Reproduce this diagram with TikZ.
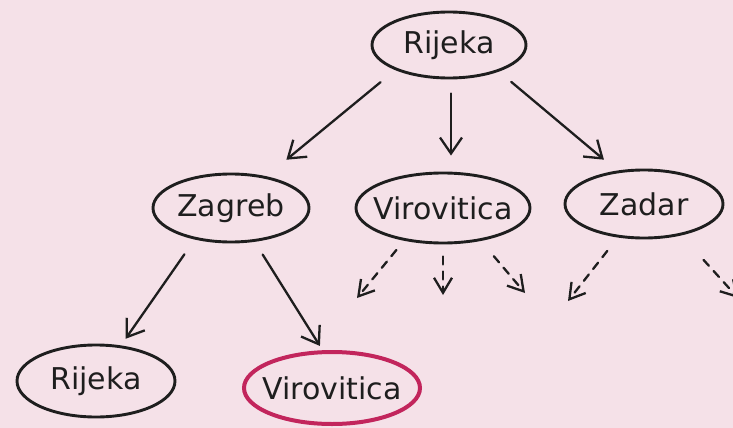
\documentclass[tikz,border=0pt]{standalone}
\usepackage{fontspec}
\setmainfont{DejaVu Sans}
\usetikzlibrary{shapes.geometric,arrows.meta}
\definecolor{paper}{HTML}{F5E1E8}
\definecolor{ink}{HTML}{1E1E1E}
\definecolor{ruby}{HTML}{C2255C}
\begin{document}
\begin{tikzpicture}[x=1pt,y=-1pt,
  city/.style={ellipse, draw=ink, line width=2.9pt, inner sep=0pt},
  goal/.style={city, draw=ruby, line width=4pt},
  cityname/.style={text=ink, font=\fontsize{30}{36}\selectfont},
  link/.style={draw=ink, line width=2.3pt, line cap=round, line join=round,
    -{Straight Barb[length=16pt,width=22pt,line width=2.3pt]}},
  fade/.style={link, dash pattern=on 8pt off 7pt,
    -{Straight Barb[length=15pt,width=18pt,line width=2.3pt]}}
]
% canvas
\fill[paper] (0,0) rectangle (733,428);
\useasboundingbox (0,0) rectangle (733,428);

% tree nodes
\node[city, minimum width=154, minimum height=66, label={[cityname]center:Rijeka}]     (r)  at (449,45)  {};
\node[city, minimum width=156, minimum height=68, label={[cityname]center:Zagreb}]     (z)  at (231,208) {};
\node[city, minimum width=174, minimum height=70, label={[cityname]center:Virovitica}] (v)  at (443,208) {};
\node[city, minimum width=158, minimum height=68, label={[cityname]center:Zadar}]      (d)  at (644,204) {};
\node[city, minimum width=158, minimum height=72, label={[cityname]center:Rijeka}]     (rb) at (96,381)  {};
\node[goal, minimum width=176, minimum height=72, label={[cityname]center:Virovitica}] (vb) at (332,388) {};

% expanded edges
\draw[link, shorten <=19pt, shorten >=26pt] (r.205) -- (z.42);
\draw[link, shorten <=14pt, shorten >=16pt] ([xshift=2pt]r.south) -- ([xshift=8pt]v.north);
\draw[link, shorten <=16pt, shorten >=17pt] (r.-28) -- (d.129);
\draw[link, shorten <=18pt, shorten >=8pt]  (z.221) -- (rb.55);
\draw[link, shorten <=15pt, shorten >=5pt]  (z.-55) -- (vb.104);

% unexplored branches
\coordinate (e1) at (357,298);
\coordinate (e2) at (443,295);
\coordinate (e3) at (525,293);
\coordinate (e4) at (568,301);
\coordinate (e5) at (738,298);
\draw[fade, shorten <=12pt] (v.220) -- (e1);
\draw[fade, shorten <=12pt] (v.south) -- (e2);
\draw[fade, shorten <=20pt] (v.-41) -- (e3);
\draw[fade, shorten <=17pt] (d.232) -- (e4);
\draw[fade, shorten <=33pt] (d.-40) -- (e5);
\end{tikzpicture}
\end{document}
